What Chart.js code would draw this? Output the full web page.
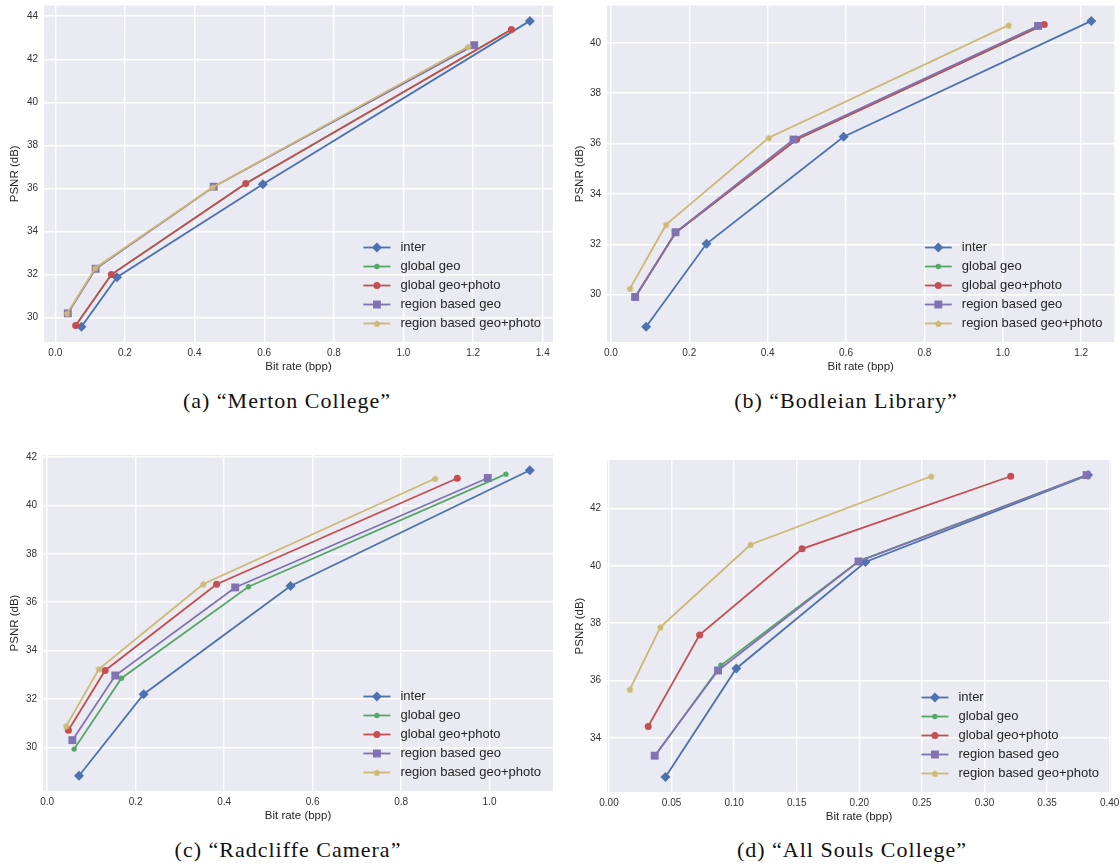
<!DOCTYPE html>
<html>
<head>
<meta charset="utf-8">
<script src="https://cdn.jsdelivr.net/npm/chart.js@4.4.1/dist/chart.umd.min.js"></script>
<style>
	body { margin: 0; background: #fff; width: 1120px; height: 867px; position: relative; overflow: hidden; }
	.painel { position: absolute; }
	.legenda { position: absolute; width: 560px; text-align: center; white-space: nowrap;
		font-family: "Liberation Serif", serif; font-size: 22px; letter-spacing: 1px; color: #111; }
</style>
</head>
<body>
<div class="painel" style="left:0px;top:0px"><canvas id="graficoMerton" width="560" height="385"></canvas></div>
<div class="painel" style="left:560px;top:0px"><canvas id="graficoBodleian" width="560" height="385"></canvas></div>
<div class="painel" style="left:0px;top:445px"><canvas id="graficoRadcliffe" width="560" height="385"></canvas></div>
<div class="painel" style="left:560px;top:445px"><canvas id="graficoAllSouls" width="560" height="385"></canvas></div>

<div class="legenda" style="left:7px;top:388px">(a) “Merton College”</div>
<div class="legenda" style="left:566px;top:388px">(b) “Bodleian Library”</div>
<div class="legenda" style="left:8px;top:837px">(c) “Radcliffe Camera”</div>
<div class="legenda" style="left:572px;top:837px">(d) “All Souls College”</div>

<script>
var series = ['inter', 'global geo', 'global geo+photo', 'region based geo', 'region based geo+photo'];

// (a) Merton College
var mertonBpp = [
	[0.075, 0.177, 0.596, 1.363],
	[0.0585, 0.161, 0.547, 1.310],
	[0.0585, 0.161, 0.547, 1.310],
	[0.036, 0.116, 0.455, 1.203],
	[0.034, 0.115, 0.452, 1.186]
];
var mertonPsnr = [
	[29.58, 31.88, 36.20, 43.78],
	[29.64, 32.00, 36.23, 43.38],
	[29.64, 32.00, 36.23, 43.38],
	[30.20, 32.27, 36.08, 42.65],
	[30.20, 32.31, 36.06, 42.59]
];
var mertonTicksX = ['0.0', '0.2', '0.4', '0.6', '0.8', '1.0', '1.2', '1.4'];
var mertonTicksY = ['30', '32', '34', '36', '38', '40', '42', '44'];

// (b) Bodleian Library
var bodleianBpp = [
	[0.090, 0.244, 0.594, 1.226],
	[0.062, 0.165, 0.474, 1.106],
	[0.062, 0.165, 0.474, 1.106],
	[0.062, 0.165, 0.466, 1.090],
	[0.049, 0.141, 0.403, 1.015]
];
var bodleianPsnr = [
	[28.73, 32.02, 36.27, 40.87],
	[29.90, 32.46, 36.16, 40.73],
	[29.90, 32.46, 36.16, 40.73],
	[29.91, 32.48, 36.16, 40.67],
	[30.25, 32.78, 36.23, 40.70]
];
var bodleianTicksX = ['0.0', '0.2', '0.4', '0.6', '0.8', '1.0', '1.2'];
var bodleianTicksY = ['30', '32', '34', '36', '38', '40'];

// (c) Radcliffe Camera
var radcliffeBpp = [
	[0.072, 0.218, 0.550, 1.091],
	[0.061, 0.168, 0.455, 1.037],
	[0.048, 0.131, 0.383, 0.927],
	[0.057, 0.154, 0.425, 0.996],
	[0.043, 0.117, 0.353, 0.877]
];
var radcliffePsnr = [
	[28.83, 32.20, 36.67, 41.45],
	[29.93, 32.86, 36.64, 41.29],
	[30.71, 33.18, 36.74, 41.12],
	[30.30, 32.97, 36.61, 41.13],
	[30.88, 33.24, 36.75, 41.11]
];
var radcliffeTicksX = ['0.0', '0.2', '0.4', '0.6', '0.8', '1.0'];
var radcliffeTicksY = ['30', '32', '34', '36', '38', '40', '42'];

// (d) All Souls College
var allSoulsBpp = [
	[0.0451, 0.1017, 0.2049, 0.3828],
	[0.0368, 0.0894, 0.2000, 0.3820],
	[0.0313, 0.0724, 0.1543, 0.3210],
	[0.0365, 0.0871, 0.1994, 0.3816],
	[0.0167, 0.0411, 0.1132, 0.2575]
];
var allSoulsPsnr = [
	[32.64, 36.42, 40.13, 43.16],
	[33.38, 36.53, 40.17, 43.16],
	[34.40, 37.59, 40.59, 43.12],
	[33.38, 36.35, 40.15, 43.16],
	[35.69, 37.86, 40.74, 43.12]
];
var allSoulsTicksX = ['0.00', '0.05', '0.10', '0.15', '0.20', '0.25', '0.30', '0.35', '0.40'];
var allSoulsTicksY = ['34', '36', '38', '40', '42'];

var Psnr = Psnr || {};

Psnr.Grafico = (function(){

	var cores = ['#4C72B0', '#55A868', '#C44E52', '#8172B2', '#CCB974'];
	var pentagono = criarPentagono(3.4, cores[4]);
	var estilos = ['rectRot', 'circle', 'circle', 'rect', pentagono];
	var raios = [5, 2.7, 3.5, 5.6, 3.4];

	function criarPentagono(r, cor){
		var lado = Math.ceil(r * 2) + 2;
		var c = document.createElement('canvas');
		c.width = lado; c.height = lado;
		var g = c.getContext('2d');
		g.fillStyle = cor;
		g.beginPath();
		for (var k = 0; k < 5; k++) {
			var ang = -Math.PI / 2 + k * 2 * Math.PI / 5;
			var px = lado / 2 + r * Math.cos(ang), py = lado / 2 + r * Math.sin(ang) + 0.4;
			if (k === 0) g.moveTo(px, py); else g.lineTo(px, py);
		}
		g.closePath();
		g.fill();
		return c;
	}

	function limites(listas){
		var todos = [].concat.apply([], listas);
		var min = Math.min.apply(null, todos), max = Math.max.apply(null, todos);
		var folga = (max - min) * 0.05;
		return { min: min - folga, max: max + folga };
	}

	var fundo = {
		id: 'fundo',
		beforeDraw: function(chart){
			var a = chart.chartArea, ctx = chart.ctx;
			ctx.save();
			ctx.fillStyle = '#EAEAF2';
			ctx.fillRect(a.left, a.top, a.right - a.left, a.bottom - a.top);
			ctx.restore();
		}
	};

	var legendaInterna = {
		id: 'legendaInterna',
		afterDraw: function(chart){
			var ctx = chart.ctx, a = chart.chartArea;
			var datasets = chart.data.datasets;
			ctx.save();
			ctx.font = '13px "Liberation Sans"';
			var largura = 0;
			datasets.forEach(function(d){
				largura = Math.max(largura, ctx.measureText(d.label).width);
			});
			var xTexto = a.right - 12 - largura;
			var xLinha = xTexto - 10 - 27;
			datasets.forEach(function(d, i){
				var y = a.bottom - 18.5 - (datasets.length - 1 - i) * 19;
				ctx.strokeStyle = d.borderColor;
				ctx.lineWidth = d.borderWidth;
				ctx.beginPath();
				ctx.moveTo(xLinha, y);
				ctx.lineTo(xLinha + 27, y);
				ctx.stroke();
				ctx.fillStyle = d.pointBackgroundColor;
				Chart.helpers.drawPoint(ctx, { pointStyle: d.pointStyle, radius: d.pointRadius, borderWidth: 0, rotation: 0 }, xLinha + 13.5, y);
				ctx.fillStyle = '#262626';
				ctx.textBaseline = 'middle';
				ctx.textAlign = 'left';
				ctx.fillText(d.label, xTexto, y);
			});
			ctx.restore();
		}
	};

	function Grafico(id, bpp, psnr, ticksX, ticksY, area, tituloX){
		this.canvas = document.getElementById(id);
		this.bpp = bpp;
		this.psnr = psnr;
		this.ticksX = ticksX;
		this.ticksY = ticksY;
		this.area = area;
		this.tituloX = tituloX;
	}

	Grafico.prototype.iniciar = function(){
		var self = this;
		var largura = this.canvas.width, altura = this.canvas.height;
		var alturaEixoX = 32;
		var limX = limites(this.bpp), limY = limites(this.psnr);

		var datasets = series.map(function(nome, i){
			return {
				label: nome,
				data: self.bpp[i].map(function(x, j){ return { x: x, y: self.psnr[i][j] }; }),
				borderColor: cores[i],
				backgroundColor: cores[i],
				pointBackgroundColor: cores[i],
				pointBorderWidth: 0,
				pointStyle: estilos[i],
				pointRadius: raios[i],
				borderWidth: 1.8,
				tension: 0,
				fill: false,
				clip: false,
				order: series.length - i
			};
		});

		var fonteTick = { family: 'Liberation Sans', size: 10 };
		var fonteTitulo = { family: 'Liberation Sans', size: 11.5 };

		new Chart(this.canvas.getContext('2d'), {
			type: 'line',
			data: { datasets: datasets },
			plugins: [fundo, legendaInterna],
			options: {
				responsive: false,
				animation: false,
				events: [],
				layout: { padding: { left: 0, top: this.area.top, right: largura - this.area.right, bottom: altura - this.area.bottom - alturaEixoX } },
				plugins: { legend: { display: false }, tooltip: { enabled: false } },
				scales: {
					x: {
						type: 'linear',
						min: limX.min,
						max: limX.max,
						afterBuildTicks: function(s){
							s.ticks = self.ticksX.map(function(t){ return { value: parseFloat(t) }; });
						},
						afterFit: function(s){
							s.height = alturaEixoX;
							s.paddingLeft = 0; s.paddingRight = 0;
						},
						ticks: {
							autoSkip: false, maxRotation: 0, padding: 5, color: '#333', font: fonteTick,
							callback: function(v, idx){ return self.ticksX[idx]; }
						},
						grid: { color: '#ffffff', lineWidth: 1.4, drawTicks: false },
						border: { display: false },
						title: { display: true, text: 'Bit rate (bpp)', color: '#262626', font: fonteTitulo, padding: { top: 0, bottom: 0 } }
					},
					y: {
						type: 'linear',
						min: limY.min,
						max: limY.max,
						afterBuildTicks: function(s){
							s.ticks = self.ticksY.map(function(t){ return { value: parseFloat(t) }; });
						},
						afterFit: function(s){
							s.width = self.area.left;
							s.paddingTop = 0; s.paddingBottom = 0;
						},
						ticks: {
							autoSkip: false, padding: 6, color: '#333', font: fonteTick,
							callback: function(v, idx){ return self.ticksY[idx]; }
						},
						grid: { color: '#ffffff', lineWidth: 1.4, drawTicks: false },
						border: { display: false },
						title: { display: true, text: 'PSNR (dB)', color: '#262626', font: fonteTitulo, padding: { top: this.tituloX - 7, bottom: 0 } }
					}
				}
			}
		});
	};

	return Grafico;
}());

new Psnr.Grafico('graficoMerton', mertonBpp, mertonPsnr, mertonTicksX, mertonTicksY,
	{ left: 44, right: 553, top: 5, bottom: 342 }, 15).iniciar();
new Psnr.Grafico('graficoBodleian', bodleianBpp, bodleianPsnr, bodleianTicksX, bodleianTicksY,
	{ left: 47, right: 556, top: 5, bottom: 342 }, 20).iniciar();
new Psnr.Grafico('graficoRadcliffe', radcliffeBpp, radcliffePsnr, radcliffeTicksX, radcliffeTicksY,
	{ left: 43, right: 553, top: 10, bottom: 346 }, 15).iniciar();
new Psnr.Grafico('graficoAllSouls', allSoulsBpp, allSoulsPsnr, allSoulsTicksX, allSoulsTicksY,
	{ left: 47, right: 551, top: 15, bottom: 347 }, 20).iniciar();
</script>
</body>
</html>
